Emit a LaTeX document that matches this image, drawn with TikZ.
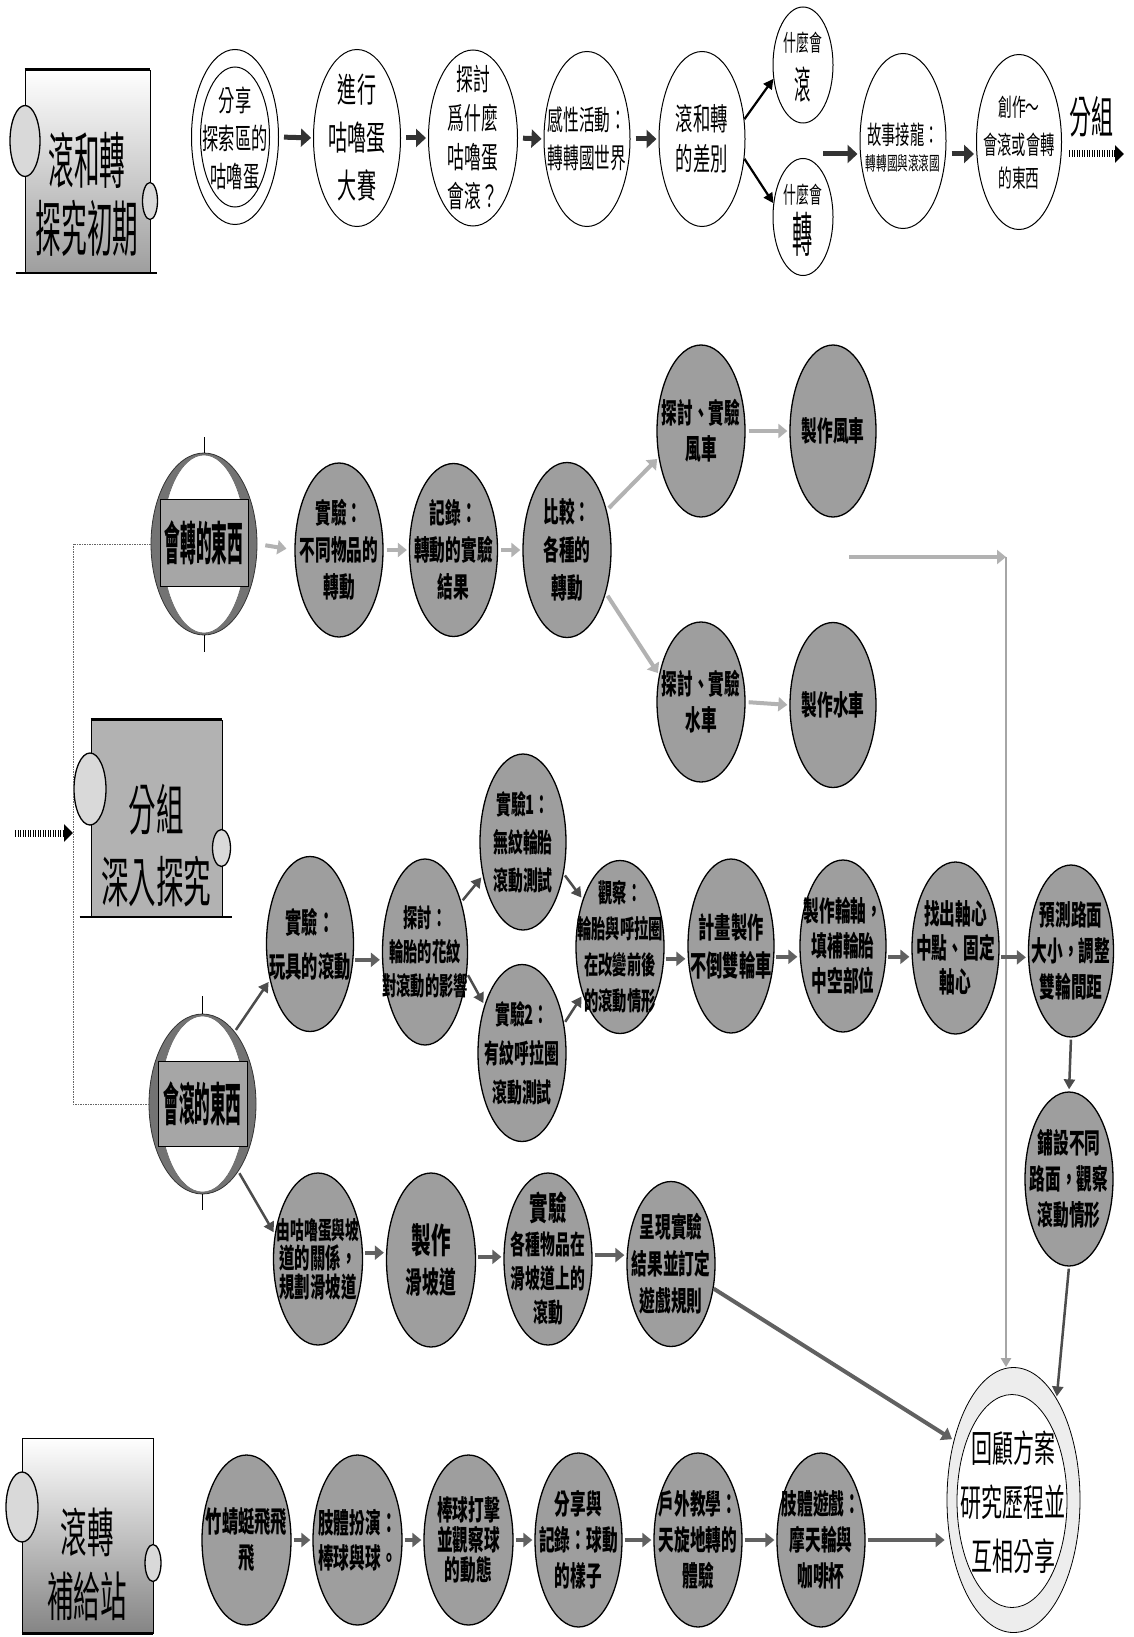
\documentclass[tikz,border=0pt]{standalone}
\usepackage{fontspec}
\usetikzlibrary{arrows.meta,shapes.geometric}
\newfontfamily\cjkG[FakeStretch=0.56]{Noto Sans CJK TC}
\newfontfamily\cjkN[FakeStretch=0.34]{Noto Sans CJK TC}
\newfontfamily\cjkM[FakeStretch=0.5]{Noto Sans CJK TC}
\newfontfamily\cjkB[FakeStretch=0.42]{Noto Sans CJK TC}
\newcommand\fz[2]{\fontsize{#1}{#2}\selectfont}
\newcommand\GN[8]{%
  \node[gn,minimum width=#4,minimum height=#5] (#1) at (#2,#3) {};
  \node[gtx,font=\cjkG\bfseries\fz{#6}{#7}] (#1-t) at (#1) {#8};}
\newcommand\WN[8]{%
  \node[wn,minimum width=#4,minimum height=#5] (#1) at (#2,#3) {};
  \node[gtx,font=\cjkG\fz{#6}{#7}] (#1-t) at (#1) {#8};}
\begin{document}
\begin{tikzpicture}[x=1pt,y=-1pt,
 wn/.style={ellipse,draw=black,line width=1pt,fill=white,inner sep=0pt},
 gn/.style={ellipse,draw=black,line width=1.3pt,fill=black!38,inner sep=0pt},
 gtx/.style={align=center,inner sep=0pt,text=black},
 ttl/.style={draw=black,line width=0.8pt,inner sep=0pt},
 sm/.style={ellipse,draw=black,line width=1.3pt,fill=black!15,inner sep=0pt},
 ring/.style={ellipse,fill=black!55,draw=black!80,line width=0.8pt,inner sep=0pt},
 ringin/.style={ellipse,fill=white,draw=black!60,line width=0.6pt,inner sep=0pt},
 ringbox/.style={draw=black,line width=1pt,fill=black!35,inner sep=0pt,font=\cjkN\bfseries\fz{46}{50}},
 arrK/.style={draw=black!80,line width=5pt,-{Triangle[width=18pt,length=10pt]},shorten <=5pt,shorten >=2pt},
 arrT/.style={draw=black,line width=2.2pt,-{Triangle[width=10pt,length=10pt]}},
 arrG/.style={draw=black!30,line width=4pt,-{Triangle[width=14pt,length=9pt]},shorten <=3pt,shorten >=2pt},
 arrD/.style={draw=black!62,line width=4pt,-{Triangle[width=14pt,length=9pt]},shorten <=2pt,shorten >=2pt},
 arrS/.style={draw=black!70,line width=2.5pt,-{Triangle[width=11pt,length=10pt]},shorten <=2pt,shorten >=2pt},
 hatch/.style={draw=black,line width=7pt,dash pattern=on 1.2pt off 1.3pt,-{Triangle[width=17pt,length=9pt]}},
 tree/.style={draw=black!60,line width=0.8pt,dash pattern=on 1.5pt off 1pt},
 gline/.style={draw=black!35,line width=2.2pt,-{Triangle[width=10pt,length=9pt]}},
]
\fill[white] (0,0) rectangle (1134,1637);
\useasboundingbox (0,0) rectangle (1134,1637);

% ---------- title box 1 ----------
\node[ttl,top color=white,bottom color=black!38,minimum width=125,minimum height=203] (T1) at (87.5,171.5) {};
\draw[line width=2.5pt] (T1.north west) -- (T1.north east);
\draw[line width=2pt] ([xshift=-9pt]T1.south west) -- ([xshift=7pt]T1.south east);
\node[sm,minimum width=30,minimum height=71] (T1l) at (25,141) {};
\node[sm,minimum width=15,minimum height=37] (T1r) at (150,201) {};
\node[gtx,font=\cjkB\fz{61}{68}] (T1t) at (87,194) {滾和轉\\探究初期};

% ---------- row 1 ----------
\node[wn,minimum width=87,minimum height=175] (n1) at (235,137) {};
\node[wn,minimum width=69,minimum height=140] (n1i) at (235,137) {};
\node[gtx,font=\cjkG\fz{29}{38}] (n1-t) at (235,139) {分享\\探索區的\\咕嚕蛋};
\WN{n2}{357}{138}{87}{177}{34}{48}{進行\\咕嚕蛋\\大賽}
\WN{n3}{473}{138}{89}{176}{30}{39}{探討\\爲什麼\\咕嚕蛋\\會滾？}
\WN{n4}{587}{139}{86}{175}{28}{38}{感性活動：\\轉轉國世界}
\WN{n5}{702}{139}{86}{175}{31}{40}{滾和轉\\的差別}
\node[wn,minimum width=60,minimum height=116] (n6) at (803,65) {};
\node[gtx,font=\cjkG\fz{23}{26}] (n6-a) at (803,43) {什麼會};
\node[gtx,font=\cjkB\fz{39}{42}] (n6-b) at (803,85) {滾};
\node[wn,minimum width=60,minimum height=117] (n7) at (803,217) {};
\node[gtx,font=\cjkG\fz{23}{26}] (n7-a) at (803,195) {什麼會};
\node[gtx,font=\cjkB\fz{48}{52}] (n7-b) at (803,234) {轉};
\node[wn,minimum width=86,minimum height=175] (n8) at (903,141) {};
\node[gtx,font=\cjkG\fz{25.5}{28}] (n8-a) at (903,135) {故事接龍：};
\node[gtx,font=\cjkG\fz{19}{22}] (n8-b) at (903,163) {轉轉國與滾滾國};
\node[wn,minimum width=85,minimum height=175] (n9) at (1019,142) {};
\node[gtx,font=\cjkG\fz{24.5}{27}] (n9-a) at (1019,107) {創作～};
\node[gtx,font=\cjkG\fz{25.5}{28}] (n9-b) at (1019,145) {會滾或會轉};
\node[gtx,font=\cjkG\fz{24.5}{27}] (n9-c) at (1019,178) {的東西};
\node[gtx,font=\cjkM\fz{44}{48}] (grp) at (1091,117) {分組};
\coordinate (j1) at (823,154);
\coordinate (g1) at (1069,154);
\coordinate (g2) at (1124,154);

\draw[arrK] (n1.east) -- (n2.west);
\draw[arrK] (n2.east) -- (n3.west);
\draw[arrK] (n3.east) -- (n4.west);
\draw[arrK] (n4.east) -- (n5.west);
\draw[arrT] (n5.25) -- (n6.205);
\draw[arrT] (n5.-25) -- (n7.155);
\draw[arrK,shorten <=0pt] (j1) -- (j1 -| n8.west);
\draw[arrK] (n8.east |- j1) -- (n9.west |- j1);
\draw[hatch] (g1) -- (g2);

% ---------- title box 2 ----------
\node[ttl,fill=black!30,minimum width=131,minimum height=197] (T2) at (156.5,818.5) {};
\draw[line width=2.5pt] (T2.north west) -- (T2.north east);
\draw[line width=2pt] ([xshift=-11pt]T2.south west) -- ([xshift=10pt]T2.south east);
\node[sm,minimum width=32,minimum height=72] (T2l) at (90,789) {};
\node[sm,minimum width=18,minimum height=37] (T2r) at (221.5,848) {};
\node[gtx,font=\cjkM\fz{55}{72}] (T2t) at (156,846) {分組\\深入探究};

% ---------- ring nodes ----------
\node[ring,minimum width=106,minimum height=182] (rot) at (204,544) {};
\node[ringin,minimum width=84,minimum height=178] (rot-i) at (204,544) {};
\node[ringbox,minimum width=88,minimum height=87] (rot-r) at (204,543) {會轉的東西};
\draw[line width=0.8pt] (rot.north) -- ++(0,-16);
\draw[line width=0.8pt] (rot.south) -- ++(0,17);

\node[ring,minimum width=107,minimum height=180] (roll) at (202.5,1104) {};
\node[ringin,minimum width=85,minimum height=176] (roll-i) at (202.5,1104) {};
\node[ringbox,minimum width=89,minimum height=85] (roll-r) at (202.5,1104) {會滾的東西};
\draw[line width=0.8pt] (roll.north) -- ++(0,-18);
\draw[line width=0.8pt] (roll.south) -- ++(0,16);

\coordinate (t1) at (73,544);
\coordinate (t2) at (73,1104);
\draw[tree] (rot.west) -- (t1) -- (t2) -- (roll.west);
\coordinate (h1) at (15,833);
\coordinate (h2) at (73,833);
\draw[hatch] (h1) -- (h2);

% ---------- row 2 (rotation) ----------
\GN{a1}{339}{550}{88}{174}{28}{37}{實驗：\\不同物品的\\轉動}
\GN{a2}{453.5}{550}{88}{173}{28}{37}{記錄：\\轉動的實驗\\結果}
\GN{a3}{567}{550}{88}{175}{28}{38}{比較：\\各種的\\轉動}
\GN{b1}{701}{431}{88}{172}{28}{36}{探討、實驗\\風車}
\GN{b2}{833}{431}{86}{172}{28}{36}{製作風車}
\GN{c1}{701}{702}{88}{160}{28}{36}{探討、實驗\\水車}
\GN{c2}{833}{705}{86}{165}{28}{36}{製作水車}

\draw[arrG,shorten <=8pt,shorten >=8pt] (rot.east) -- (a1.west);
\draw[arrG] (a1.east) -- (a2.west);
\draw[arrG] (a2.east) -- (a3.west);
\draw[arrG] (a3.45) -- (b1.212);
\draw[arrG] (a3.-48) -- (c1.147);
\draw[arrG] (b1.east) -- (b2.west);
\draw[arrG] (c1.east) -- (c2.west);

% ---------- final node ----------
\node[ellipse,draw=black,line width=0.8pt,fill=black!7,inner sep=0pt,minimum width=133,minimum height=265] (fin) at (1013.5,1500) {};
\node[ellipse,draw=black,line width=0.8pt,fill=white,inner sep=0pt,minimum width=110,minimum height=213] (fin-i) at (1012,1501) {};
\node[gtx,font=\cjkG\fz{37.5}{54}] (fin-t) at (1013,1502) {回顧方案\\研究歷程並\\互相分享};

\coordinate (k1) at (849,557);
\coordinate (k2) at (1006,557);
\draw[arrG,shorten <=0pt,shorten >=0pt] (k1) -- (k2);
\draw[gline] (k2) -- (k2 |- fin.north);

% ---------- row 3 (rolling) ----------
\GN{r1}{310}{944}{87}{175}{29}{44}{實驗：\\玩具的滾動}
\GN{r2}{425}{952}{85}{186}{25.5}{34}{探討：\\輪胎的花紋\\對滾動的影響}
\GN{e1}{523}{842}{86}{176}{26.5}{38}{實驗1：\\無紋輪胎\\滾動測試}
\GN{e2}{522}{1053}{88}{177}{26.5}{39}{實驗2：\\有紋呼拉圈\\滾動測試}
\GN{obs}{620}{947}{88}{173}{25.5}{36}{觀察：\\輪胎與呼拉圈\\在改變前後\\的滾動情形}
\GN{p1}{731}{946}{86}{174}{29}{38}{計畫製作\\不倒雙輪車}
\GN{p2}{843}{946}{86}{172}{28}{35}{製作輪軸，\\填補輪胎\\中空部位}
\GN{p3}{955.5}{948}{87}{172}{28}{34}{找出軸心\\中點、固定\\軸心}
\GN{p4}{1071}{951}{85}{172}{28}{36}{預測路面\\大小，調整\\雙輪間距}
\GN{p5}{1069}{1179}{88}{174}{28}{36}{鋪設不同\\路面，觀察\\滾動情形}

\draw[arrS] (roll.66) -- (r1.222);
\draw[arrD] (r1.-20) -- (r1.-20 -| r2.west);
\draw[arrS] (r2.54) -- (e1.220);
\draw[arrS] (r2.-27) -- (e2.128);
\draw[arrS] (e1.-38) -- (obs.128);
\draw[arrS] (e2.35) -- (obs.232);
\draw[arrD] (obs.-15) -- (obs.-15 -| p1.west);
\draw[arrD] (p1.-14) -- (p1.-14 -| p2.west);
\draw[arrD] (p2.-14) -- (p2.-14 -| p3.west);
\draw[arrD] (p3.-12) -- (p3.-12 -| p4.west);
\draw[arrS] (p4.south) -- (p5.north);
\draw[arrS] (p5.south) -- (fin.67);

% ---------- row 4 (slope) ----------
\GN{s1}{318}{1259}{89}{172}{27.5}{29}{{\fz{24.5}{29}由咕嚕蛋與坡}\\道的關係，\\規劃滑坡道}
\GN{s2}{431}{1260}{89}{174}{30}{40}{{\fz{35}{40}製作}\\滑坡道}
\GN{s3}{548}{1259}{88}{172}{26.5}{34}{{\fz{33}{34}實驗}\\各種物品在\\滑坡道上的\\滾動}
\GN{s4}{671}{1264}{88}{165}{28}{37}{呈現實驗\\結果並訂定\\遊戲規則}

\draw[arrS] (roll.-62) -- (s1.150);
\draw[arrD] (s1.8) -- (s1.8 -| s2.west);
\draw[arrD] (s2.4) -- (s2.4 -| s3.west);
\draw[arrD] (s3.5) -- (s3.5 -| s4.west);
\draw[draw=black!62,line width=4pt,-{Triangle[width=14pt,length=10pt]},shorten >=2pt] (s4.-30) -- (fin.135);

% ---------- title box 3 ----------
\node[ttl,top color=white,bottom color=black!48,minimum width=131,minimum height=195] (T3) at (87.5,1535.5) {};
\draw[line width=2.5pt] (T3.south west) -- (T3.south east);
\node[sm,minimum width=32,minimum height=70] (T3l) at (22,1507) {};
\node[sm,minimum width=16,minimum height=37] (T3r) at (153,1563) {};
\node[gtx,font=\cjkM\fz{53}{64}] (T3t) at (87,1564) {滾轉\\補給站};

% ---------- bottom row ----------
\GN{u1}{246.5}{1540}{89}{170}{29}{36}{竹蜻蜓飛飛\\飛}
\GN{u2}{357.5}{1540}{89}{170}{28}{35}{肢體扮演：\\棒球與球。}
\GN{u3}{468.5}{1540}{89}{170}{28}{30}{棒球打擊\\並觀察球\\的動態}
\GN{u4}{578.5}{1540}{87}{174}{28}{36}{分享與\\記錄：球動\\的樣子}
\GN{u5}{698}{1540}{88}{174}{28}{36}{戶外教學：\\天旋地轉的\\體驗}
\GN{u6}{821}{1540}{88}{174}{28}{36}{肢體遊戲：\\摩天輪與\\咖啡杯}

\draw[arrD] (u1.east) -- (u2.west);
\draw[arrD] (u2.east) -- (u3.west);
\draw[arrD] (u3.east) -- (u4.west);
\draw[arrD] (u4.east) -- (u5.west);
\draw[arrD] (u5.east) -- (u6.west);
\draw[arrD] (u6.east) -- (u6.east -| fin.west);
\end{tikzpicture}
\end{document}
